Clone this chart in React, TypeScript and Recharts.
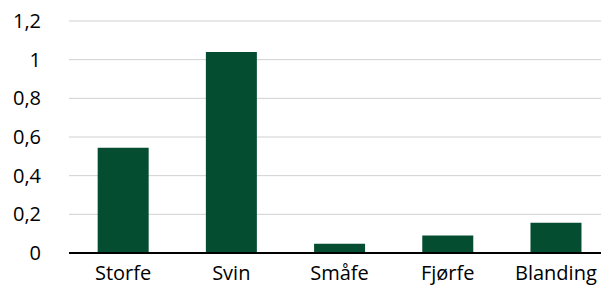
import { BarChart, Bar, XAxis, YAxis, CartesianGrid } from 'recharts'

const categories = ['Storfe', 'Svin', 'Småfe', 'Fjørfe', 'Blanding']
const values = [0.545, 1.04, 0.048, 0.09, 0.157]
const yTicks = [0, 0.2, 0.4, 0.6, 0.8, 1, 1.2]

const data = categories.map((name, i) => ({ name, value: values[i] }))

const FONT = '"Open Sans", Lato, sans-serif'

function YTick(props: any) {
  const { x, y, payload } = props
  return (
    <text x={x} y={y} dy={7} textAnchor="end" fill="#000" fontSize={20} fontFamily={FONT}>
      {String(payload.value).replace('.', ',')}
    </text>
  )
}

export default function App() {
  return (
    <div style={{ position: 'fixed', left: 0, top: 0, width: 601, height: 285, overflow: 'hidden', background: '#fff' }}>
      <BarChart
        width={612}
        height={285}
        data={data}
        margin={{ top: 21, right: 2, bottom: 0, left: 0 }}
        barCategoryGap="26.5%"
      >
        <CartesianGrid vertical={false} stroke="#d0d0d0" strokeWidth={1} />
        <XAxis
          dataKey="name"
          height={32}
          tickLine={false}
          tickSize={0}
          tickMargin={13}
          axisLine={{ stroke: '#000', strokeWidth: 2 }}
          tick={{ fill: '#000', fontSize: 20, fontFamily: FONT }}
          interval={0}
        />
        <YAxis
          width={69}
          domain={[0, 1.2]}
          ticks={yTicks}
          axisLine={false}
          tickLine={false}
          tickSize={0}
          tickMargin={28}
          tick={<YTick />}
        />
        <Bar dataKey="value" fill="#044d30" isAnimationActive={false} />
      </BarChart>
    </div>
  )
}
